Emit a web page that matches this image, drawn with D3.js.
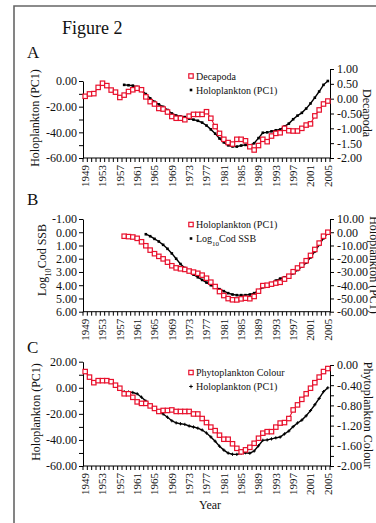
<!DOCTYPE html>
<html>
<head>
<meta charset="utf-8">
<script src="https://cdn.jsdelivr.net/npm/d3@7"></script>
<style>
  body { margin: 0; background: #fff; }
  svg { display: block; font-family: "Liberation Serif", "Times New Roman", serif; }
</style>
</head>
<body>
<svg id="chart" width="376" height="523"></svg>
<script>
// categories (one per year)
const years = [1949, 1950, 1951, 1952, 1953, 1954, 1955, 1956, 1957, 1958,
    1959, 1960, 1961, 1962, 1963, 1964, 1965, 1966, 1967, 1968,
    1969, 1970, 1971, 1972, 1973, 1974, 1975, 1976, 1977, 1978,
    1979, 1980, 1981, 1982, 1983, 1984, 1985, 1986, 1987, 1988,
    1989, 1990, 1991, 1992, 1993, 1994, 1995, 1996, 1997, 1998,
    1999, 2000, 2001, 2002, 2003, 2004, 2005];
const yearLabels = [1949, 1953, 1957, 1961, 1965, 1969, 1973, 1977, 1981, 1985, 1989, 1993, 1997, 2001, 2005];

// Decapoda, 1949-2005
const decapoda = [0.08, 0.16, 0.17, 0.38, 0.52, 0.44, 0.29, 0.22, 0.04, 0.12,
    0.24, 0.30, 0.35, 0.30, 0.06, -0.10, -0.18, -0.33, -0.35, -0.45,
    -0.60, -0.66, -0.66, -0.71, -0.59, -0.53, -0.53, -0.53, -0.44, -0.66,
    -0.94, -1.17, -1.37, -1.48, -1.53, -1.37, -1.37, -1.42, -1.62, -1.73,
    -1.58, -1.37, -1.45, -1.26, -1.17, -1.15, -1.00, -1.08, -1.09, -1.09,
    -1.00, -0.89, -0.85, -0.58, -0.38, -0.18, -0.08];

// Holoplankton (PC1), 1958-2005
const holoStart = 1958;
const holoplankton = [-3.0, -3.3, -3.6, -4.6, -7.2, -10.2, -13.5, -16.2, -18.2, -20.1,
    -22.6, -25.3, -26.9, -27.6, -28.1, -29.3, -30.1, -31.0, -32.4, -34.7,
    -37.7, -41.0, -44.8, -47.8, -50.1, -51.0, -51.1, -50.3, -49.8, -50.2,
    -48.5, -44.5, -40.3, -40.0, -39.2, -38.4, -37.8, -35.4, -33.2, -29.8,
    -27.0, -24.8, -21.5, -17.5, -13.0, -8.2, -3.0, 0.0];

// Log10 Cod SSB, 1963-2005
const codStart = 1963;
const codSSB = [0.15, 0.30, 0.50, 0.70, 0.95, 1.25, 1.60, 2.00, 2.40, 2.70,
    2.95, 3.20, 3.40, 3.60, 3.80, 4.00, 4.15, 4.30, 4.45, 4.60,
    4.70, 4.75, 4.75, 4.75, 4.70, 4.60, 4.40, 4.15, 4.00, 3.85,
    3.65, 3.50, 3.40, 3.30, 3.10, 2.85, 2.60, 2.30, 1.90, 1.45,
    0.95, 0.45, 0.05];

// Phytoplankton Colour, 1949-2005
const phytoColour = [-0.13, -0.24, -0.35, -0.31, -0.31, -0.31, -0.33, -0.40, -0.46, -0.57,
    -0.57, -0.64, -0.73, -0.76, -0.76, -0.81, -0.86, -0.92, -0.90, -0.90,
    -0.89, -0.92, -0.92, -0.92, -0.92, -0.97, -0.97, -1.06, -1.14, -1.23,
    -1.30, -1.39, -1.47, -1.47, -1.56, -1.65, -1.72, -1.68, -1.63, -1.55,
    -1.45, -1.35, -1.32, -1.32, -1.23, -1.15, -1.14, -1.06, -0.89, -0.79,
    -0.68, -0.57, -0.46, -0.35, -0.24, -0.13, -0.07];

const RED = '#e8102c';
const svg = d3.select('#chart');

// shared category axis
const x = d3.scaleBand().domain(years).range([83, 330]);
const cx = yr => x(yr) + x.bandwidth() / 2;

const toPoints = (start, values) => values.map((v, i) => ({year: start + i, value: v}));

/**
 * vertical axis; only every `step`-th tick gets a label
 */
function yAxis(g, scale, ticks, step, side, xPos) {
    const axis = (side === 'left' ? d3.axisLeft(scale) : d3.axisRight(scale))
        .tickValues(ticks)
        .tickSizeInner(4)
        .tickSizeOuter(0)
        .tickPadding(side === 'left' ? 2 : 3)
        .tickFormat((d, i) => i % step === 0 ? d.toFixed(2) : '');
    g.append('g')
        .attr('transform', `translate(${xPos},0)`)
        .call(axis)
        .call(a => a.selectAll('text').attr('font-size', 12).attr('fill', '#111')
            .attr('font-family', '"Liberation Serif", serif'))
        .call(a => a.selectAll('line,path').attr('stroke', '#000'));
}

/**
 * category axis with a tick at every year boundary
 */
function xAxis(g, yPos) {
    const edges = years.map(yr => x(yr)).concat([330]);
    const ax = g.append('g').attr('class', 'x-axis');
    ax.append('line')
        .attr('x1', 83).attr('x2', 330).attr('y1', yPos).attr('y2', yPos)
        .attr('stroke', '#000');
    ax.selectAll('.tick').data(edges).enter().append('line')
        .attr('x1', d => d).attr('x2', d => d)
        .attr('y1', yPos).attr('y2', yPos + 4)
        .attr('stroke', '#000');
    ax.selectAll('.lab').data(yearLabels).enter().append('text')
        .attr('transform', d => `translate(${cx(d)},${yPos + 7}) rotate(-90)`)
        .attr('text-anchor', 'end')
        .attr('dy', '0.35em')
        .attr('font-size', 11)
        .attr('fill', '#111')
        .text(d => d);
}

function redSeries(g, pts, scale) {
    const line = d3.line().x(d => cx(d.year)).y(d => scale(d.value));
    g.append('path').datum(pts)
        .attr('d', line).attr('fill', 'none').attr('stroke', RED).attr('stroke-width', 1.1);
    g.selectAll(null).data(pts).enter().append('rect')
        .attr('x', d => cx(d.year) - 2.2).attr('y', d => scale(d.value) - 2.2)
        .attr('width', 4.4).attr('height', 4.4)
        .attr('fill', '#fff').attr('stroke', RED).attr('stroke-width', 1.2);
}

function blackSeries(g, pts, scale, plus) {
    const line = d3.line().x(d => cx(d.year)).y(d => scale(d.value));
    g.append('path').datum(pts)
        .attr('d', line).attr('fill', 'none').attr('stroke', '#000').attr('stroke-width', 1.4);
    if (plus) {
        g.selectAll(null).data(pts).enter().append('path')
            .attr('d', d => `M${cx(d.year) - 1.6},${scale(d.value)}h3.2M${cx(d.year)},${scale(d.value) - 1.6}v3.2`)
            .attr('stroke', '#000').attr('stroke-width', 1);
    } else {
        g.selectAll(null).data(pts).enter().append('rect')
            .attr('x', d => cx(d.year) - 1.3).attr('y', d => scale(d.value) - 1.3)
            .attr('width', 2.6).attr('height', 2.6).attr('fill', '#000');
    }
}

function legend(g, x0, y0, items) {
    items.forEach((it, i) => {
        const y = y0 + i * 14;
        if (it.kind === 'red') {
            g.append('rect').attr('x', x0 - 2.2).attr('y', y - 2.2).attr('width', 4.4).attr('height', 4.4)
                .attr('fill', '#fff').attr('stroke', RED).attr('stroke-width', 1.2);
        } else if (it.kind === 'plus') {
            g.append('path').attr('d', `M${x0 - 1.8},${y}h3.6M${x0},${y - 1.8}v3.6`)
                .attr('stroke', '#000').attr('stroke-width', 1);
        } else {
            g.append('rect').attr('x', x0 - 1.3).attr('y', y - 1.3).attr('width', 2.6).attr('height', 2.6)
                .attr('fill', '#000');
        }
        const t = g.append('text').attr('x', x0 + 5).attr('y', y).attr('dy', '0.35em')
            .attr('font-size', 10).attr('fill', '#111');
        it.label(t);
    });
}

function vTitle(g, xPos, yPos, angle, build) {
    const t = g.append('text')
        .attr('transform', `translate(${xPos},${yPos}) rotate(${angle})`)
        .attr('text-anchor', 'middle')
        .attr('font-size', 12)
        .attr('fill', '#111');
    build(t);
}

const plain = s => t => t.text(s);
const codLabel = t => {
    t.append('tspan').text('Log');
    t.append('tspan').attr('font-size', '0.7em').attr('baseline-shift', 'sub').text('10');
    t.append('tspan').text('Cod SSB');
};

// frame
svg.append('path').attr('d', 'M14,523V6H376')
    .attr('fill', 'none').attr('stroke', '#666').attr('stroke-width', 1.6);
svg.append('text').attr('x', 62).attr('y', 34).attr('font-size', 18).attr('fill', '#111').text('Figure 2');

// ---- panel A
const gA = svg.append('g');
const aLeft = d3.scaleLinear().domain([-60, 0]).range([158, 81]);
const aRight = d3.scaleLinear().domain([-2, 1]).range([158, 69]);
gA.append('text').attr('x', 27).attr('y', 58).attr('font-size', 17).attr('fill', '#111').text('A');
yAxis(gA, aLeft, [-60, -50, -40, -30, -20, -10, 0], 2, 'left', 83);
yAxis(gA, aRight, [-2, -1.5, -1, -0.5, 0, 0.5, 1], 1, 'right', 330);
xAxis(gA, 158);
blackSeries(gA, toPoints(holoStart, holoplankton), aLeft, false);
redSeries(gA, toPoints(years[0], decapoda), aRight);
legend(gA, 191, 76, [
    {kind: 'red', label: plain('Decapoda')},
    {kind: 'sq', label: plain('Holoplankton (PC1)')}
]);
vTitle(gA, 39, 118, -90, plain('Holoplankton (PC1)'));
vTitle(gA, 363, 113, 90, plain('Decapoda'));

// ---- panel B
const gB = svg.append('g');
const bLeft = d3.scaleLinear().domain([-1, 6]).range([219, 311.7]);
const bRight = d3.scaleLinear().domain([-60, 10]).range([311.7, 219]);
gB.append('text').attr('x', 27).attr('y', 205).attr('font-size', 17).attr('fill', '#111').text('B');
yAxis(gB, bLeft, [-1, 0, 1, 2, 3, 4, 5, 6], 1, 'left', 83);
yAxis(gB, bRight, [-60, -50, -40, -30, -20, -10, 0, 10], 1, 'right', 330);
xAxis(gB, 311.7);
blackSeries(gB, toPoints(codStart, codSSB), bLeft, false);
redSeries(gB, toPoints(holoStart, holoplankton), bRight);
legend(gB, 191, 224.5, [
    {kind: 'red', label: plain('Holoplankton (PC1)')},
    {kind: 'sq', label: codLabel}
]);
vTitle(gB, 46, 260, -90, codLabel);
// the reference crops this title at the right edge
vTitle(gB, 370, 265, 90, plain('Holoplankton (PC1)'));

// ---- panel C
const gC = svg.append('g');
const cLeft = d3.scaleLinear().domain([-60, 20]).range([466, 361.7]);
const cRight = d3.scaleLinear().domain([-2, 0]).range([466, 365]);
gC.append('text').attr('x', 27).attr('y', 353).attr('font-size', 17).attr('fill', '#111').text('C');
yAxis(gC, cLeft, [-60, -50, -40, -30, -20, -10, 0, 10, 20], 2, 'left', 83);
yAxis(gC, cRight, [-2, -1.8, -1.6, -1.4, -1.2, -1, -0.8, -0.6, -0.4, -0.2, 0], 2, 'right', 330);
xAxis(gC, 466);
blackSeries(gC, toPoints(holoStart, holoplankton), cLeft, true);
redSeries(gC, toPoints(years[0], phytoColour), cRight);
legend(gC, 191, 372.5, [
    {kind: 'red', label: plain('Phytoplankton Colour')},
    {kind: 'plus', label: plain('Holoplankton (PC1)')}
]);
vTitle(gC, 40, 412, -90, plain('Holoplankton (PC1)'));
vTitle(gC, 364, 415, 90, plain('Phytoplankton Colour'));
gC.append('text').attr('x', 210).attr('y', 509).attr('text-anchor', 'middle')
    .attr('font-size', 12).attr('fill', '#111').text('Year');
</script>
</body>
</html>
